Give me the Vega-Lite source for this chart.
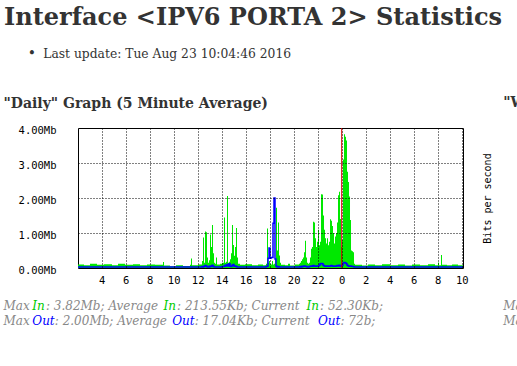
{
  "$schema": "https://vega.github.io/schema/vega-lite/v6.json",
  "autosize": "none",
  "padding": {"left": 78, "top": 128, "right": 54, "bottom": 98},
  "width": 385,
  "height": 140,
  "background": "white",
  "title": {
    "text": "Interface <IPV6 PORTA 2> Statistics",
    "anchor": "start",
    "frame": "group",
    "dx": -74,
    "offset": 17,
    "font": "DejaVu Serif",
    "fontSize": 24,
    "fontWeight": "bold",
    "color": "#333333"
  },
  "datasets": {
    "traffic": [
      {"t": 2.025, "in": 100000, "out": 30000},
      {"t": 2.525, "in": 80000, "out": 30000},
      {"t": 3.025, "in": 120000, "out": 30000},
      {"t": 3.608, "in": 90000, "out": 30000},
      {"t": 4.192, "in": 110000, "out": 30000},
      {"t": 4.858, "in": 80000, "out": 30000},
      {"t": 5.358, "in": 120000, "out": 30000},
      {"t": 5.942, "in": 90000, "out": 30000},
      {"t": 6.608, "in": 110000, "out": 30000},
      {"t": 7.192, "in": 80000, "out": 30000},
      {"t": 7.775, "in": 100000, "out": 30000},
      {"t": 8.442, "in": 90000, "out": 30000},
      {"t": 9.108, "in": 170000, "out": 30000},
      {"t": 9.192, "in": 70000, "out": 30000},
      {"t": 9.692, "in": 50000, "out": 30000},
      {"t": 10.192, "in": 80000, "out": 30000},
      {"t": 10.775, "in": 60000, "out": 30000},
      {"t": 11.358, "in": 90000, "out": 30000},
      {"t": 11.442, "in": 270000, "out": 30000},
      {"t": 11.525, "in": 80000, "out": 30000},
      {"t": 12.025, "in": 100000, "out": 30000},
      {"t": 12.358, "in": 200000, "out": 40000},
      {"t": 12.442, "in": 870000, "out": 30000},
      {"t": 12.525, "in": 150000, "out": 50000},
      {"t": 12.608, "in": 1040000, "out": 70000},
      {"t": 12.692, "in": 1020000, "out": 50000},
      {"t": 12.775, "in": 300000, "out": 30000},
      {"t": 12.858, "in": 150000, "out": 40000},
      {"t": 12.942, "in": 220000, "out": 30000},
      {"t": 13.025, "in": 960000, "out": 60000},
      {"t": 13.108, "in": 600000, "out": 40000},
      {"t": 13.192, "in": 1230000, "out": 80000},
      {"t": 13.275, "in": 420000, "out": 50000},
      {"t": 13.358, "in": 150000, "out": 30000},
      {"t": 13.442, "in": 120000, "out": 30000},
      {"t": 13.525, "in": 300000, "out": 30000},
      {"t": 13.608, "in": 100000, "out": 30000},
      {"t": 13.858, "in": 120000, "out": 30000},
      {"t": 14.025, "in": 150000, "out": 40000},
      {"t": 14.192, "in": 1440000, "out": 50000},
      {"t": 14.275, "in": 150000, "out": 80000},
      {"t": 14.358, "in": 180000, "out": 60000},
      {"t": 14.442, "in": 2060000, "out": 100000},
      {"t": 14.525, "in": 150000, "out": 60000},
      {"t": 14.608, "in": 180000, "out": 120000},
      {"t": 14.692, "in": 250000, "out": 50000},
      {"t": 14.775, "in": 420000, "out": 40000},
      {"t": 14.858, "in": 1230000, "out": 80000},
      {"t": 14.942, "in": 660000, "out": 100000},
      {"t": 15.025, "in": 350000, "out": 50000},
      {"t": 15.108, "in": 600000, "out": 60000},
      {"t": 15.192, "in": 1140000, "out": 40000},
      {"t": 15.275, "in": 300000, "out": 30000},
      {"t": 15.358, "in": 120000, "out": 30000},
      {"t": 15.525, "in": 90000, "out": 30000},
      {"t": 15.942, "in": 110000, "out": 30000},
      {"t": 16.525, "in": 80000, "out": 30000},
      {"t": 17.025, "in": 100000, "out": 30000},
      {"t": 17.442, "in": 80000, "out": 30000},
      {"t": 17.692, "in": 120000, "out": 40000},
      {"t": 17.775, "in": 1130000, "out": 50000},
      {"t": 17.858, "in": 150000, "out": 280000},
      {"t": 17.942, "in": 200000, "out": 570000},
      {"t": 18.025, "in": 120000, "out": 280000},
      {"t": 18.108, "in": 100000, "out": 300000},
      {"t": 18.192, "in": 200000, "out": 300000},
      {"t": 18.275, "in": 100000, "out": 1280000},
      {"t": 18.358, "in": 120000, "out": 2000000},
      {"t": 18.442, "in": 250000, "out": 260000},
      {"t": 18.525, "in": 1720000, "out": 50000},
      {"t": 18.608, "in": 500000, "out": 30000},
      {"t": 18.692, "in": 1300000, "out": 40000},
      {"t": 18.775, "in": 360000, "out": 30000},
      {"t": 18.858, "in": 150000, "out": 30000},
      {"t": 18.942, "in": 90000, "out": 30000},
      {"t": 19.275, "in": 80000, "out": 30000},
      {"t": 19.525, "in": 120000, "out": 30000},
      {"t": 19.692, "in": 70000, "out": 30000},
      {"t": 20.108, "in": 100000, "out": 30000},
      {"t": 20.442, "in": 120000, "out": 30000},
      {"t": 20.525, "in": 150000, "out": 40000},
      {"t": 20.608, "in": 200000, "out": 30000},
      {"t": 20.692, "in": 250000, "out": 50000},
      {"t": 20.775, "in": 300000, "out": 40000},
      {"t": 20.858, "in": 450000, "out": 60000},
      {"t": 20.942, "in": 780000, "out": 50000},
      {"t": 21.025, "in": 300000, "out": 40000},
      {"t": 21.108, "in": 150000, "out": 30000},
      {"t": 21.192, "in": 120000, "out": 30000},
      {"t": 21.275, "in": 150000, "out": 40000},
      {"t": 21.358, "in": 300000, "out": 50000},
      {"t": 21.442, "in": 550000, "out": 60000},
      {"t": 21.525, "in": 600000, "out": 50000},
      {"t": 21.608, "in": 1320000, "out": 70000},
      {"t": 21.692, "in": 1300000, "out": 60000},
      {"t": 21.775, "in": 850000, "out": 50000},
      {"t": 21.858, "in": 600000, "out": 60000},
      {"t": 21.942, "in": 750000, "out": 50000},
      {"t": 22.025, "in": 1090000, "out": 60000},
      {"t": 22.108, "in": 650000, "out": 80000},
      {"t": 22.192, "in": 750000, "out": 120000},
      {"t": 22.275, "in": 2110000, "out": 130000},
      {"t": 22.358, "in": 2100000, "out": 120000},
      {"t": 22.442, "in": 1500000, "out": 80000},
      {"t": 22.525, "in": 1090000, "out": 60000},
      {"t": 22.608, "in": 850000, "out": 50000},
      {"t": 22.692, "in": 700000, "out": 60000},
      {"t": 22.775, "in": 850000, "out": 50000},
      {"t": 22.858, "in": 650000, "out": 60000},
      {"t": 22.942, "in": 750000, "out": 50000},
      {"t": 23.025, "in": 1390000, "out": 60000},
      {"t": 23.108, "in": 1350000, "out": 70000},
      {"t": 23.192, "in": 1200000, "out": 60000},
      {"t": 23.275, "in": 1000000, "out": 50000},
      {"t": 23.358, "in": 700000, "out": 60000},
      {"t": 23.442, "in": 900000, "out": 50000},
      {"t": 23.525, "in": 1000000, "out": 60000},
      {"t": 23.608, "in": 1300000, "out": 70000},
      {"t": 23.692, "in": 2080000, "out": 60000},
      {"t": 23.775, "in": 2180000, "out": 80000},
      {"t": 23.858, "in": 1400000, "out": 60000},
      {"t": 23.942, "in": 600000, "out": 50000},
      {"t": 24.025, "in": 800000, "out": 80000},
      {"t": 24.108, "in": 3100000, "out": 140000},
      {"t": 24.192, "in": 3820000, "out": 160000},
      {"t": 24.275, "in": 3750000, "out": 150000},
      {"t": 24.358, "in": 3640000, "out": 120000},
      {"t": 24.442, "in": 2750000, "out": 80000},
      {"t": 24.525, "in": 2460000, "out": 60000},
      {"t": 24.608, "in": 2040000, "out": 50000},
      {"t": 24.692, "in": 1370000, "out": 60000},
      {"t": 24.775, "in": 500000, "out": 50000},
      {"t": 24.858, "in": 480000, "out": 40000},
      {"t": 24.942, "in": 450000, "out": 40000},
      {"t": 25.025, "in": 120000, "out": 30000},
      {"t": 25.108, "in": 90000, "out": 30000},
      {"t": 25.692, "in": 70000, "out": 30000},
      {"t": 26.192, "in": 100000, "out": 30000},
      {"t": 26.775, "in": 80000, "out": 30000},
      {"t": 27.358, "in": 110000, "out": 30000},
      {"t": 28.025, "in": 80000, "out": 30000},
      {"t": 28.692, "in": 100000, "out": 30000},
      {"t": 29.275, "in": 70000, "out": 30000},
      {"t": 29.858, "in": 100000, "out": 30000},
      {"t": 30.525, "in": 80000, "out": 30000},
      {"t": 31.192, "in": 110000, "out": 30000},
      {"t": 31.775, "in": 80000, "out": 30000},
      {"t": 32.025, "in": 160000, "out": 30000},
      {"t": 32.108, "in": 80000, "out": 30000},
      {"t": 32.275, "in": 370000, "out": 30000},
      {"t": 32.358, "in": 90000, "out": 30000},
      {"t": 32.775, "in": 80000, "out": 30000},
      {"t": 33.192, "in": 100000, "out": 30000},
      {"t": 33.692, "in": 80000, "out": 30000},
      {"t": 34.108, "in": 80000, "out": 30000}
    ],
    "one": [{}]
  },
  "data": {"name": "traffic"},
  "layer": [
    {
      "mark": {"type": "area", "interpolate": "step-after", "color": "#00e800"},
      "encoding": {
        "x": {
          "field": "t", "type": "quantitative",
          "scale": {"domain": [2.025, 34.108], "nice": false, "zero": false},
          "axis": {
            "orient": "bottom", "title": null, "values": [4, 6, 8, 10, 12, 14, 16, 18, 20, 22, 24, 26, 28, 30, 32, 34],
            "labelExpr": "datum.value % 24", "ticks": false, "domain": false,
            "grid": true, "gridColor": "black", "gridDash": [1, 2], "gridOpacity": 1, "gridWidth": 1,
            "labelFont": "DejaVu Sans Mono", "labelFontSize": 10.5, "labelColor": "black", "labelPadding": 7,
            "labelFlush": false, "labelOverlap": false, "zindex": 1
          }
        },
        "y": {
          "field": "in", "type": "quantitative",
          "scale": {"domain": [0, 4000000], "nice": false},
          "axis": {
            "orient": "left", "title": null, "values": [0, 1000000, 2000000, 3000000, 4000000],
            "labelExpr": "format(datum.value / 1000000, '.2f') + 'Mb'", "ticks": false, "domain": false,
            "grid": true, "gridColor": "black", "gridDash": [1, 2], "gridWidth": 1,
            "gridOpacity": {"condition": {"test": "datum.value == 0 || datum.value == 4000000", "value": 0}, "value": 1},
            "labelFont": "DejaVu Sans Mono", "labelFontSize": 10.5, "labelColor": "black", "labelPadding": 22,
            "labelOffset": 2, "labelFlush": false, "labelOverlap": false, "zindex": 1
          }
        }
      }
    },
    {
      "mark": {"type": "line", "interpolate": "step-after", "color": "#0000ff", "strokeWidth": 1.5},
      "encoding": {
        "x": {
          "field": "t", "type": "quantitative",
          "scale": {"domain": [2.025, 34.108], "nice": false, "zero": false},
          "axis": {
            "orient": "top", "labels": false, "ticks": false, "domain": false, "grid": false,
            "title": "\"Daily\" Graph (5 Minute Average)",
            "titleFont": "DejaVu Serif", "titleFontSize": 14, "titleFontWeight": "bold", "titleColor": "#333333",
            "titleX": -75, "titleY": -21, "titleAlign": "left", "titleAnchor": "start", "titleBaseline": "alphabetic"
          }
        },
        "y": {
          "field": "out", "type": "quantitative",
          "scale": {"domain": [0, 4000000], "nice": false},
          "axis": {
            "orient": "right", "labels": false, "ticks": false, "domain": false, "grid": false,
            "title": "Bits per second",
            "titleFont": "DejaVu Sans Mono", "titleFontSize": 10, "titleFontWeight": "normal", "titleColor": "black",
            "titleAngle": 270, "titleX": 24, "titleY": 70, "titleAlign": "center", "titleBaseline": "middle"
          }
        }
      }
    },
    {
      "data": {"name": "one"},
      "mark": {"type": "rule", "color": "#d40000", "strokeWidth": 1},
      "encoding": {"x": {"datum": 24, "type": "quantitative", "axis": null}}
    },
    {
      "data": {"name": "one"},
      "mark": {"type": "text", "text": "•", "align": "center", "baseline": "alphabetic", "font": "DejaVu Serif", "fontSize": 14, "color": "#333333"},
      "encoding": {"x": {"datum": -1.825, "type": "quantitative", "axis": null}, "y": {"datum": 6014000, "type": "quantitative", "axis": null}}
    },
    {
      "data": {"name": "one"},
      "mark": {"type": "text", "text": "Last update: Tue Aug 23 10:04:46 2016", "align": "left", "baseline": "alphabetic", "font": "DejaVu Serif", "fontSize": 12.3, "color": "#333333"},
      "encoding": {"x": {"datum": -0.867, "type": "quantitative", "axis": null}, "y": {"datum": 6014000, "type": "quantitative", "axis": null}}
    },
    {
      "data": {"name": "one"},
      "mark": {"type": "text", "text": "\"Weekly\" Graph (30 Minute Average)", "align": "left", "baseline": "alphabetic", "font": "DejaVu Serif", "fontSize": 14, "fontWeight": "bold", "color": "#333333"},
      "encoding": {"x": {"datum": 37.467, "type": "quantitative", "axis": null}, "y": {"datum": 4600000, "type": "quantitative", "axis": null}}
    },
    {
      "data": {"name": "one"},
      "mark": {"type": "text", "text": "Max ", "align": "left", "baseline": "alphabetic", "font": "DejaVu Serif", "fontSize": 12, "fontStyle": "italic", "color": "#888888"},
      "encoding": {"x": {"datum": -4.183, "type": "quantitative", "axis": null}, "y": {"datum": -1214000, "type": "quantitative", "axis": null}}
    },
    {
      "data": {"name": "one"},
      "mark": {"type": "text", "text": "In", "align": "left", "baseline": "alphabetic", "font": "DejaVu Serif", "fontSize": 12, "fontStyle": "italic", "color": "#00cc00"},
      "encoding": {"x": {"datum": -1.783, "type": "quantitative", "axis": null}, "y": {"datum": -1214000, "type": "quantitative", "axis": null}}
    },
    {
      "data": {"name": "one"},
      "mark": {"type": "text", "text": ": 3.82Mb; Average ", "align": "left", "baseline": "alphabetic", "font": "DejaVu Serif", "fontSize": 12, "fontStyle": "italic", "color": "#888888"},
      "encoding": {"x": {"datum": -0.642, "type": "quantitative", "axis": null}, "y": {"datum": -1214000, "type": "quantitative", "axis": null}}
    },
    {
      "data": {"name": "one"},
      "mark": {"type": "text", "text": "In", "align": "left", "baseline": "alphabetic", "font": "DejaVu Serif", "fontSize": 12, "fontStyle": "italic", "color": "#00cc00"},
      "encoding": {"x": {"datum": 9.142, "type": "quantitative", "axis": null}, "y": {"datum": -1214000, "type": "quantitative", "axis": null}}
    },
    {
      "data": {"name": "one"},
      "mark": {"type": "text", "text": ": 213.55Kb; Current ", "align": "left", "baseline": "alphabetic", "font": "DejaVu Serif", "fontSize": 12, "fontStyle": "italic", "color": "#888888"},
      "encoding": {"x": {"datum": 10.283, "type": "quantitative", "axis": null}, "y": {"datum": -1214000, "type": "quantitative", "axis": null}}
    },
    {
      "data": {"name": "one"},
      "mark": {"type": "text", "text": "In", "align": "left", "baseline": "alphabetic", "font": "DejaVu Serif", "fontSize": 12, "fontStyle": "italic", "color": "#00cc00"},
      "encoding": {"x": {"datum": 21.058, "type": "quantitative", "axis": null}, "y": {"datum": -1214000, "type": "quantitative", "axis": null}}
    },
    {
      "data": {"name": "one"},
      "mark": {"type": "text", "text": ": 52.30Kb;", "align": "left", "baseline": "alphabetic", "font": "DejaVu Serif", "fontSize": 12, "fontStyle": "italic", "color": "#888888"},
      "encoding": {"x": {"datum": 22.2, "type": "quantitative", "axis": null}, "y": {"datum": -1214000, "type": "quantitative", "axis": null}}
    },
    {
      "data": {"name": "one"},
      "mark": {"type": "text", "text": "Max ", "align": "left", "baseline": "alphabetic", "font": "DejaVu Serif", "fontSize": 12, "fontStyle": "italic", "color": "#888888"},
      "encoding": {"x": {"datum": -4.183, "type": "quantitative", "axis": null}, "y": {"datum": -1628600, "type": "quantitative", "axis": null}}
    },
    {
      "data": {"name": "one"},
      "mark": {"type": "text", "text": "Out", "align": "left", "baseline": "alphabetic", "font": "DejaVu Serif", "fontSize": 12, "fontStyle": "italic", "color": "#0000ff"},
      "encoding": {"x": {"datum": -1.783, "type": "quantitative", "axis": null}, "y": {"datum": -1628600, "type": "quantitative", "axis": null}}
    },
    {
      "data": {"name": "one"},
      "mark": {"type": "text", "text": ": 2.00Mb; Average ", "align": "left", "baseline": "alphabetic", "font": "DejaVu Serif", "fontSize": 12, "fontStyle": "italic", "color": "#888888"},
      "encoding": {"x": {"datum": 0.092, "type": "quantitative", "axis": null}, "y": {"datum": -1628600, "type": "quantitative", "axis": null}}
    },
    {
      "data": {"name": "one"},
      "mark": {"type": "text", "text": "Out", "align": "left", "baseline": "alphabetic", "font": "DejaVu Serif", "fontSize": 12, "fontStyle": "italic", "color": "#0000ff"},
      "encoding": {"x": {"datum": 9.875, "type": "quantitative", "axis": null}, "y": {"datum": -1628600, "type": "quantitative", "axis": null}}
    },
    {
      "data": {"name": "one"},
      "mark": {"type": "text", "text": ": 17.04Kb; Current ", "align": "left", "baseline": "alphabetic", "font": "DejaVu Serif", "fontSize": 12, "fontStyle": "italic", "color": "#888888"},
      "encoding": {"x": {"datum": 11.75, "type": "quantitative", "axis": null}, "y": {"datum": -1628600, "type": "quantitative", "axis": null}}
    },
    {
      "data": {"name": "one"},
      "mark": {"type": "text", "text": "Out", "align": "left", "baseline": "alphabetic", "font": "DejaVu Serif", "fontSize": 12, "fontStyle": "italic", "color": "#0000ff"},
      "encoding": {"x": {"datum": 22.025, "type": "quantitative", "axis": null}, "y": {"datum": -1628600, "type": "quantitative", "axis": null}}
    },
    {
      "data": {"name": "one"},
      "mark": {"type": "text", "text": ": 72b;", "align": "left", "baseline": "alphabetic", "font": "DejaVu Serif", "fontSize": 12, "fontStyle": "italic", "color": "#888888"},
      "encoding": {"x": {"datum": 23.9, "type": "quantitative", "axis": null}, "y": {"datum": -1628600, "type": "quantitative", "axis": null}}
    },
    {
      "data": {"name": "one"},
      "mark": {"type": "text", "text": "Max In:", "align": "left", "baseline": "alphabetic", "font": "DejaVu Serif", "fontSize": 12, "fontStyle": "italic", "color": "#888888"},
      "encoding": {"x": {"datum": 37.467, "type": "quantitative", "axis": null}, "y": {"datum": -1214000, "type": "quantitative", "axis": null}}
    },
    {
      "data": {"name": "one"},
      "mark": {"type": "text", "text": "Max Out:", "align": "left", "baseline": "alphabetic", "font": "DejaVu Serif", "fontSize": 12, "fontStyle": "italic", "color": "#888888"},
      "encoding": {"x": {"datum": 37.467, "type": "quantitative", "axis": null}, "y": {"datum": -1628600, "type": "quantitative", "axis": null}}
    }
  ],
  "config": {
    "view": {"stroke": "black", "strokeWidth": 1}
  }
}
